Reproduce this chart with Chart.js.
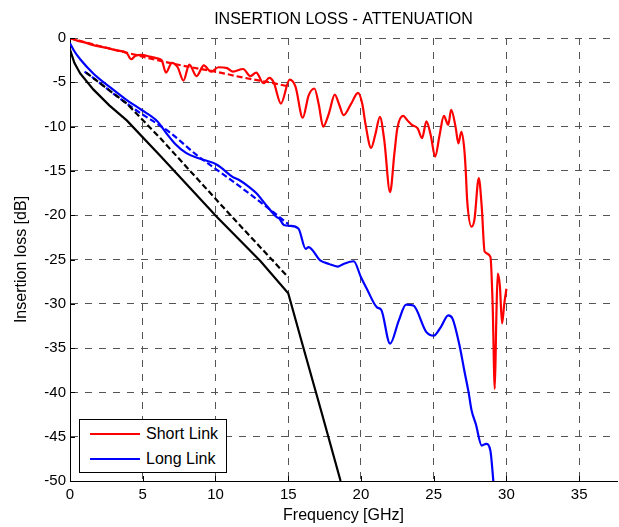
<!DOCTYPE html>
<html>
<head>
<meta charset="utf-8">
<script src="https://cdn.jsdelivr.net/npm/chart.js@4.4.1/dist/chart.umd.min.js"></script>
<style>
  body { margin: 0; background: #fff; }
  #wrap { position: relative; width: 619px; height: 527px; }
  #legend {
    position: absolute; left: 79px; top: 419px; width: 146px; height: 52px;
    border: 1px solid #000; background: #fff;
    font-family: "Liberation Sans", Arial, sans-serif; font-size: 16px;
  }
  .item { position: absolute; left: 10px; height: 20px; display: flex; align-items: center; }
  .item span.line { display: inline-block; width: 50px; height: 2px; margin-right: 6px; }
</style>
</head>
<body>
<div id="wrap">
  <canvas id="chart" width="619" height="527"></canvas>
  <div id="legend"></div>
</div>
<script>
// axis ticks
const xTicks = [0, 5, 10, 15, 20, 25, 30, 35];
const yTicks = [-50, -45, -40, -35, -30, -25, -20, -15, -10, -5, 0];

// short link, measured
const shortFreq = [0, 0.5, 1.0, 1.6, 2.5, 3.2, 3.9, 4.2, 4.5, 4.9, 5.5, 6.0, 6.3, 6.6, 7.0, 7.4, 7.8, 8.2, 8.7, 9.2,
  9.7, 10.2, 10.8, 11.2, 11.9, 12.4, 12.8, 13.3, 13.7, 14.0, 14.5, 15.1, 15.5, 16.0, 16.4, 16.8, 17.1, 17.4, 17.8, 18.2,
  18.5, 18.8, 19.3, 19.8, 20.1, 20.3, 20.7, 21.0, 21.3, 21.6, 22.0, 22.3, 22.5, 22.9, 23.2, 23.5, 23.9, 24.2, 24.5, 24.8,
  25.1, 25.4, 25.7, 26.0, 26.2, 26.5, 26.7, 26.9, 27.1, 27.2, 27.3, 27.6, 27.8, 28.1, 28.3, 28.5, 28.9, 29.05, 29.2, 29.3,
  29.4, 29.55, 29.7, 29.85, 30.0];
const shortLoss = [0, -0.3, -0.5, -0.8, -1.1, -1.4, -1.7, -2.4, -2.0, -1.9, -2.1, -2.3, -2.5, -3.9, -2.8, -3.3, -4.8, -3.0, -4.3, -3.1,
  -3.8, -3.3, -3.4, -3.8, -3.5, -4.3, -3.9, -5.1, -4.5, -5.0, -7.4, -4.7, -5.5, -9.0, -6.5, -5.7, -7.5, -10.0, -8.5, -6.4,
  -7.5, -8.7, -7.5, -6.2, -7.5, -9.6, -12.4, -10.8, -8.9, -11.5, -17.4, -13.0, -10.2, -8.8, -9.3, -9.8, -10.2, -11.3, -9.4, -11.0,
  -13.4, -11.0, -8.8, -9.8, -8.1, -10.0, -11.9, -10.6, -12.5, -14.9, -18.3, -21.3, -20.5, -15.8, -19.0, -24.1, -24.7, -30.0, -39.6, -32.0,
  -26.6, -28.0, -32.2, -30.0, -28.3];

// short link, fit
const shortFitFreq = [0, 2, 4, 6, 8, 10, 12, 14, 15.1];
const shortFitLoss = [0, -0.9, -1.7, -2.5, -3.2, -3.8, -4.5, -5.1, -5.5];

// long link, measured
const longFreq = [0, 0.3, 0.7, 1.6, 2.7, 3.9, 4.9, 6.0, 6.6, 7.2, 8.0, 8.9, 10.1, 11.2, 11.6, 12.3, 12.8, 13.5, 14.2, 14.4,
  14.7, 15.1, 15.7, 16.2, 16.4, 17.2, 17.8, 18.4, 18.8, 19.5, 20.0, 20.4, 21.1, 21.4, 22.0, 22.6, 23.1, 23.6, 24.5, 25.0,
  25.5, 26.0, 26.3, 26.8, 27.1, 27.4, 27.6, 27.9, 28.3, 28.6, 28.9, 29.1];
const longLoss = [-0.6, -1.5, -2.4, -4.0, -5.5, -7.0, -8.1, -9.4, -10.7, -11.9, -13.0, -13.6, -14.3, -15.7, -16.0, -16.8, -17.5, -18.9, -20.2, -20.4,
  -21.1, -21.2, -21.5, -23.8, -23.6, -25.1, -25.5, -25.8, -25.5, -25.2, -27.0, -28.3, -30.4, -30.7, -34.5, -31.9, -30.1, -30.2, -33.2, -33.6,
  -32.6, -31.3, -31.7, -34.9, -37.5, -40.0, -42.0, -43.6, -46.0, -45.8, -46.6, -50.0];

// long link, fit
const longFitFreq = [1.0, 1.6, 3.0, 4.5, 6.9, 8.7, 10.8, 12.6, 14.7, 15.0];
const longFitLoss = [-3.8, -4.5, -6.3, -8.1, -10.7, -13.2, -15.7, -17.9, -20.6, -21.0];

// black curves
const refFreq = [0, 0.3, 0.7, 1.6, 2.7, 3.9, 6.2, 10.1, 13.1, 15.0, 16.0, 17.3, 18.6];
const refLoss = [-1.3, -2.8, -4.0, -5.8, -7.6, -9.3, -13.3, -20.2, -25.2, -28.8, -34.7, -42.3, -50.0];
const refFitFreq = [1.1, 3.9, 6.2, 8.2, 11.2, 15.0];
const refFitLoss = [-3.9, -7.4, -11.3, -14.9, -20.3, -27.0];

function toPoints(fs, ls) {
    return fs.map((f, i) => ({ x: f, y: ls[i] }));
}

const fontName = '"Liberation Sans", Arial, sans-serif';

function series(label, fs, ls, color, dashed, smooth) {
    return {
        label: label,
        data: toPoints(fs, ls),
        borderColor: color,
        backgroundColor: color,
        borderWidth: 2.2,
        borderDash: dashed ? [6, 3] : [],
        pointRadius: 0,
        fill: false,
        cubicInterpolationMode: smooth ? 'monotone' : 'default',
        tension: 0
    };
}

// small inward ticks like the original plot
const innerTicks = {
    id: 'innerTicks',
    afterDatasetsDraw(chart) {
        const { ctx, chartArea, scales } = chart;
        ctx.save();
        ctx.strokeStyle = '#000';
        ctx.lineWidth = 1;
        ctx.beginPath();
        xTicks.forEach(v => {
            const px = Math.round(scales.x.getPixelForValue(v)) + 0.5;
            ctx.moveTo(px, chartArea.bottom);
            ctx.lineTo(px, chartArea.bottom - 5);
        });
        yTicks.forEach(v => {
            const py = Math.round(scales.y.getPixelForValue(v)) + 0.5;
            ctx.moveTo(chartArea.left, py);
            ctx.lineTo(chartArea.left + 5, py);
        });
        ctx.stroke();
        ctx.restore();
    }
};

const ctx = document.getElementById('chart').getContext('2d');
const chart = new Chart(ctx, {
    type: 'line',
    data: {
        datasets: [
            series('', refFreq, refLoss, '#000000', false, false),
            series('', refFitFreq, refFitLoss, '#000000', true, false),
            series('Long Link', longFreq, longLoss, '#0000ff', false, true),
            series('', longFitFreq, longFitLoss, '#0000ff', true, true),
            series('Short Link', shortFreq, shortLoss, '#ff0000', false, true),
            series('', shortFitFreq, shortFitLoss, '#ff0000', true, true)
        ]
    },
    options: {
        responsive: false,
        animation: false,
        layout: { padding: { left: 0, right: 2, top: 0, bottom: 0 } },
        plugins: {
            legend: { display: false },
            tooltip: { enabled: false },
            title: {
                display: true,
                text: 'INSERTION LOSS - ATTENUATION',
                fullSize: false,
                color: '#000',
                font: { family: fontName, size: 16, weight: 'normal', lineHeight: 1.2 },
                padding: { top: 10, bottom: 8.8 }
            }
        },
        scales: {
            x: {
                type: 'linear',
                min: 0,
                max: 37.6,
                afterBuildTicks: scale => { scale.ticks = xTicks.map(v => ({ value: v })); },
                afterFit: scale => { scale.height = 46; },
                ticks: {
                    color: '#000',
                    padding: 5,
                    maxRotation: 0,
                    font: { family: fontName, size: 15 }
                },
                grid: {
                    color: '#555',
                    drawTicks: false
                },
                border: { display: true, color: '#000', width: 1, dash: [7, 7] },
                title: {
                    display: true,
                    text: 'Frequency [GHz]',
                    color: '#000',
                    font: { family: fontName, size: 16, lineHeight: 1.2 },
                    padding: { top: 0, bottom: 2 }
                }
            },
            y: {
                min: -50,
                max: 0,
                afterBuildTicks: scale => { scale.ticks = yTicks.map(v => ({ value: v })); },
                afterFit: scale => { scale.width = 70; },
                ticks: {
                    color: '#000',
                    padding: 4,
                    font: { family: fontName, size: 15 }
                },
                grid: {
                    color: '#555',
                    drawTicks: false
                },
                border: { display: true, color: '#000', width: 1, dash: [7, 7] },
                title: {
                    display: true,
                    text: 'Insertion loss [dB]',
                    color: '#000',
                    font: { family: fontName, size: 16, lineHeight: 1.2 },
                    padding: { top: 12, bottom: 0 }
                }
            }
        }
    },
    plugins: [innerTicks]
});

// legend box drawn in the lower left corner of the plot
const legendEl = document.getElementById('legend');
chart.data.datasets.filter(d => d.label).reverse().forEach((d, i) => {
    const item = document.createElement('div');
    item.className = 'item';
    item.style.top = (4 + i * 25) + 'px';
    item.innerHTML = '<span class="line" style="background:' + d.borderColor + '"></span>' + d.label;
    legendEl.appendChild(item);
});
</script>
</body>
</html>
